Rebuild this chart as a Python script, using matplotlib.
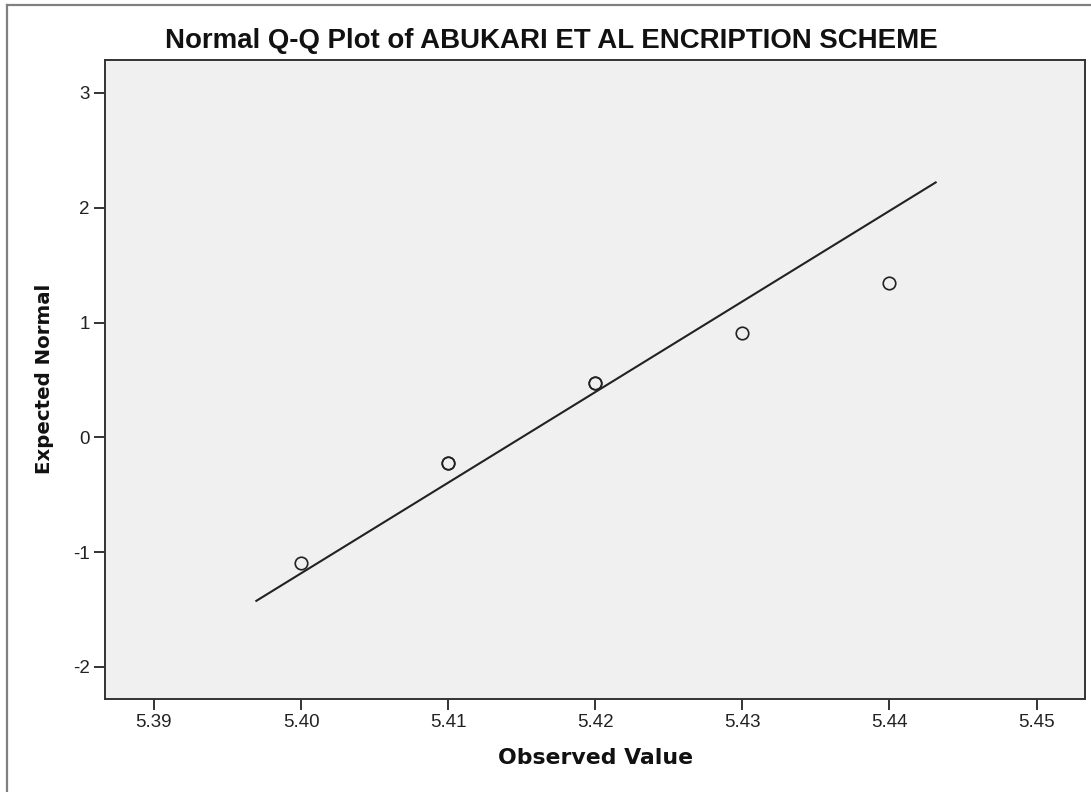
import matplotlib.pyplot as plt
import numpy as np
from matplotlib.lines import Line2D

# observed values and their expected normal scores (tied cases repeated)
observed = [5.40, 5.41, 5.41, 5.42, 5.42, 5.43, 5.44]
expected = [-1.094, -0.225, -0.225, 0.474, 0.474, 0.910, 1.342]

# reference line: z = (x - mean) / sd
line_mean = 5.4150
line_sd = 0.01267
line_x = [5.3969, 5.4432]

x_ticks = [5.39, 5.40, 5.41, 5.42, 5.43, 5.44, 5.45]
y_ticks = [-2, -1, 0, 1, 2, 3]

title = 'Normal Q-Q Plot of ABUKARI ET AL ENCRIPTION SCHEME'
xlabel = 'Observed Value'
ylabel = 'Expected Normal'

fig = plt.figure(figsize=(10.91, 7.92), dpi=100)
ax = fig.add_axes([0.0962, 0.1174, 0.8983, 0.8068])
ax.set_facecolor('#f0f0f0')

lx = np.array(line_x)
ly = (lx - line_mean) / line_sd
ax.plot(lx, ly, color='#222222', lw=1.5, solid_capstyle='butt')

ax.plot(observed, expected, ls='none', marker='o', markersize=9,
		markerfacecolor='none', markeredgecolor='#222222', markeredgewidth=1.2)

ax.set_xlim(5.38667, 5.45329)
ax.set_ylim(-2.279, 3.287)
ax.set_xticks(x_ticks)
ax.set_xticklabels(['%.2f' % v for v in x_ticks])
ax.set_yticks(y_ticks)
ax.set_yticklabels([str(v) for v in y_ticks])

for s in ax.spines.values():
	s.set_color('#333333')
	s.set_linewidth(1.4)

ax.tick_params(direction='out', length=8, width=1.4, color='#333333',
			   labelsize=13.5, labelcolor='#222222', pad=3)
for lab in ax.get_xticklabels() + ax.get_yticklabels():
	lab.set_family('Liberation Sans')

fig.text(0.505, 0.948, title, ha='center', va='center', fontsize=19.9,
		 fontweight='bold', family='Liberation Sans', color='#111111')
fig.text(0.546, 0.043, xlabel, ha='center', va='center', fontsize=15.8,
		 fontweight='bold', family='DejaVu Sans', color='#111111')
fig.text(0.041, 0.521, ylabel, ha='center', va='center', fontsize=14.2,
		 fontweight='bold', family='DejaVu Sans', rotation=90, color='#111111')

# outer frame (left and top edges visible)
fig.add_artist(Line2D([7 / 1091, 7 / 1091], [0, 1 - 5 / 792], transform=fig.transFigure,
					  color='#808080', lw=1.6))
fig.add_artist(Line2D([7 / 1091, 1], [1 - 5 / 792, 1 - 5 / 792], transform=fig.transFigure,
					  color='#808080', lw=1.6))

fig.savefig('out.png', dpi=100)
